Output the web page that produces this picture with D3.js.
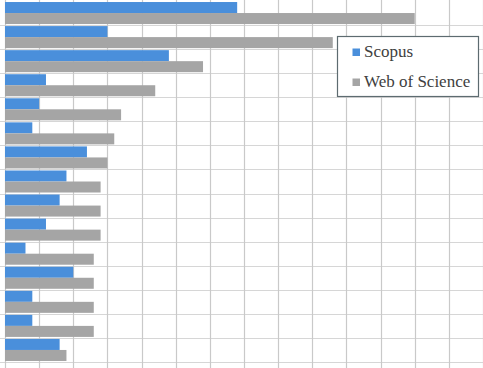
<!DOCTYPE html>
<html>
<head>
<meta charset="utf-8">
<script src="https://cdn.jsdelivr.net/npm/d3@7"></script>
<style>
html,body{margin:0;padding:0;background:#fff;}
svg{display:block;}
.lgtext{font-family:"Liberation Serif","Times New Roman",Times,serif;font-size:17px;fill:#404040;}
</style>
</head>
<body>
<svg id="chart" width="483" height="368"></svg>
<script>
const categories = ["C1","C2","C3","C4","C5","C6","C7","C8","C9","C10","C11","C12","C13","C14","C15"];
const seriesNames = ["Scopus","Web of Science"];
const scopus = [34,15,24,6,5,4,12,9,8,6,3,10,4,4,8];
const wos = [60,48,29,22,17,16,15,14,14,14,13,13,13,13,9];
const xTicks = [0,5,10,15,20,25,30,35,40,45,50,55,60,65,70];
const colors = ["#4a8fdb","#a5a5a5"];

const svg = d3.select("#chart");
const mLeft = 5, mRight = 483, mTop = 1, mBottom = 362;

const x = d3.scaleLinear().domain([0,70]).range([mLeft,mRight]);
const y = d3.scaleBand().domain(categories).range([mTop,mBottom]).paddingInner(0.085).paddingOuter(0.0425);
const ySub = d3.scaleBand().domain(seriesNames).range([0,y.bandwidth()]);
const step = y.step();

// horizontal gridlines at category boundaries
const bounds = d3.range(1, categories.length+1).map(i => mTop + i*step);
svg.append("g").selectAll("line").data(bounds).join("line")
  .attr("x1",0).attr("x2",mRight)
  .attr("y1",d=>Math.round(d)+0.5).attr("y2",d=>Math.round(d)+0.5)
  .attr("stroke","#d6d6d6").attr("stroke-width",1.2);

// vertical gridlines + bottom ticks
svg.append("g").selectAll("line").data(xTicks).join("line")
  .attr("x1",d=>Math.round(x(d))+0.5).attr("x2",d=>Math.round(x(d))+0.5)
  .attr("y1",0).attr("y2",368)
  .attr("stroke","#c9c9c9").attr("stroke-width",1.2);

// bars
const data = categories.map((c,i)=>({cat:c, vals:[scopus[i], wos[i]]}));
const g = svg.append("g");
data.forEach(d=>{
  seriesNames.forEach((s,j)=>{
    g.append("rect")
      .attr("x", x(0))
      .attr("y", y(d.cat)+ySub(s))
      .attr("width", x(d.vals[j])-x(0))
      .attr("height", ySub.bandwidth())
      .attr("fill", colors[j]);
  });
});

// legend
const lg = svg.append("g");
lg.append("rect").attr("x",337.5).attr("y",36.5).attr("width",141).attr("height",60)
  .attr("fill","#fff").attr("stroke","#5d6b70").attr("stroke-width",1.2);
seriesNames.forEach((s,j)=>{
  const cy = 52 + j*30;
  lg.append("rect").attr("x",352.5).attr("y",cy-3.5).attr("width",7.5).attr("height",7.5).attr("fill",colors[j]);
  lg.append("text").attr("class","lgtext").attr("x",364).attr("y",cy+5).text(s);
});
</script>
</body>
</html>
